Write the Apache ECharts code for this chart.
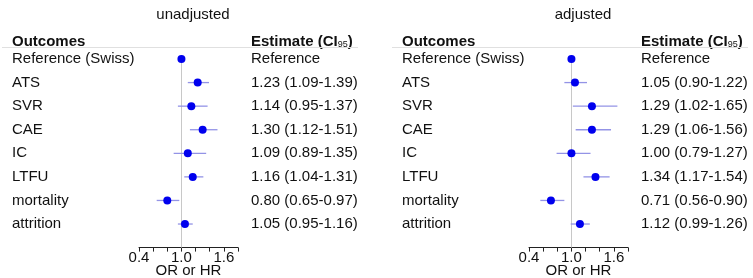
<!DOCTYPE html>
<html><head><meta charset="utf-8">
<script src="https://cdn.jsdelivr.net/npm/echarts@6/dist/echarts.min.js"></script>
<style>html,body{margin:0;padding:0;background:#fff}#c{width:753px;height:278px}</style>
</head><body><div id="c"></div>
<script>
var outcomes = ['Reference (Swiss)','ATS','SVR','CAE','IC','LTFU','mortality','attrition'];
var panelTitles = ['unadjusted','adjusted'];
var unadjEst = [1.00,1.23,1.14,1.30,1.09,1.16,0.80,1.05];
var unadjLo  = [null,1.09,0.95,1.12,0.89,1.04,0.65,0.95];
var unadjHi  = [null,1.39,1.37,1.51,1.35,1.31,0.97,1.16];
var adjEst = [1.00,1.05,1.29,1.29,1.00,1.34,0.71,1.12];
var adjLo  = [null,0.90,1.02,1.06,0.79,1.17,0.56,0.99];
var adjHi  = [null,1.22,1.65,1.56,1.27,1.54,0.90,1.26];
var tickLabels = ['0.4','1.0','1.6'];
var xMin = 0.4, xMax = 1.8, xStep = 0.2;

function estLabels(est, lo, hi){
  return est.map(function(v,i){
    if(lo[i]===null) return 'Reference';
    return v.toFixed(2)+' ('+lo[i].toFixed(2)+'-'+hi[i].toFixed(2)+')';
  });
}
var FONT = '"Liberation Sans", Arial, sans-serif';
var panels = [
  {est:unadjEst, lo:unadjLo, hi:unadjHi, dx:0},
  {est:adjEst, lo:adjLo, hi:adjHi, dx:390}
];
var cats = outcomes.concat(['']);
var grids=[], xAxes=[], yAxes=[], series=[], titles=[], graphics=[];
panels.forEach(function(p, k){
  grids.push({left:139+p.dx, width:99, top:59, height:188.6, containLabel:false, outerBoundsMode:'none'});
  xAxes.push({type:'value', gridIndex:k, min:xMin, max:xMax, interval:xStep,
    splitLine:{show:false},
    axisLine:{show:true, lineStyle:{color:'#222', width:1}},
    axisTick:{show:true, length:4, lineStyle:{color:'#222'}},
    axisLabel:{margin:3, fontSize:15, color:'#111', fontFamily:FONT, hideOverlap:false,
      formatter:function(v){var s=v.toFixed(1); return tickLabels.indexOf(s)>=0?s:'';}},
    name:'OR or HR', nameLocation:'middle', nameGap:16, nameMoveOverlap:false,
    nameTextStyle:{fontSize:15, color:'#111', fontFamily:FONT}
  });
  yAxes.push({type:'category', gridIndex:k, data:cats, inverse:true, boundaryGap:false,
    position:'left', axisLine:{show:false}, axisTick:{show:false}, splitLine:{show:false},
    axisLabel:{align:'left', margin:127, fontSize:15, color:'#111', fontFamily:FONT, interval:0}
  });
  yAxes.push({type:'category', gridIndex:k, data:estLabels(p.est,p.lo,p.hi).concat(['']), inverse:true, boundaryGap:false,
    position:'right', axisLine:{show:false}, axisTick:{show:false}, splitLine:{show:false},
    axisLabel:{align:'left', margin:13, fontSize:15, color:'#111', fontFamily:FONT, interval:0}
  });
  var ciData = [];
  p.est.forEach(function(v,i){ if(p.lo[i]!==null) ciData.push([p.lo[i], i, p.hi[i]]); });
  series.push({type:'custom', xAxisIndex:k, yAxisIndex:2*k, data:ciData, silent:true,
    renderItem:function(params, api){
      var a = api.coord([api.value(0), api.value(1)]);
      var b = api.coord([api.value(2), api.value(1)]);
      return {type:'line', shape:{x1:a[0], y1:a[1], x2:b[0], y2:b[1]},
        style:{stroke:'#9393e6', lineWidth:1.3}};
    }
  });
  series.push({type:'scatter', xAxisIndex:k, yAxisIndex:2*k, z:5,
    data:p.est.map(function(v,i){return [v,i];}),
    symbolSize:8,
    itemStyle:{color:'#0000ee', opacity:1},
    markLine:{silent:true, symbol:'none', label:{show:false}, z:1,
      lineStyle:{color:'#c8c8c8', type:'solid', width:1},
      data:[{xAxis:1.0}]}
  });
  titles.push({text:panelTitles[k], left:188+p.dx, top:2, textAlign:'center',
    textStyle:{fontSize:15, fontWeight:'normal', color:'#111', fontFamily:FONT}});
  graphics.push({type:'text', left:12+p.dx, top:34,
    style:{text:'Outcomes', font:'bold 15px '+FONT, fill:'#111'}});
  graphics.push({type:'text', left:251+p.dx, top:34,
    style:{text:'{b|Estimate (CI}{s|95}{b|)}', fill:'#111',
      rich:{b:{font:'bold 15px '+FONT, fill:'#111'}, s:{font:'9px '+FONT, fill:'#111', verticalAlign:'bottom', padding:[6,0,0,0]}}}});
  graphics.push({type:'line', shape:{x1:2+p.dx, y1:47.5, x2:358+p.dx, y2:47.5},
    style:{stroke:'#e0e0e0', lineWidth:1}});
});

var chart = echarts.init(document.getElementById('c'), null, {renderer:'canvas'});
chart.setOption({
  animation:false, backgroundColor:'#fff',
  title:titles, grid:grids, xAxis:xAxes, yAxis:yAxes, series:series, graphic:graphics
});
</script></body></html>
